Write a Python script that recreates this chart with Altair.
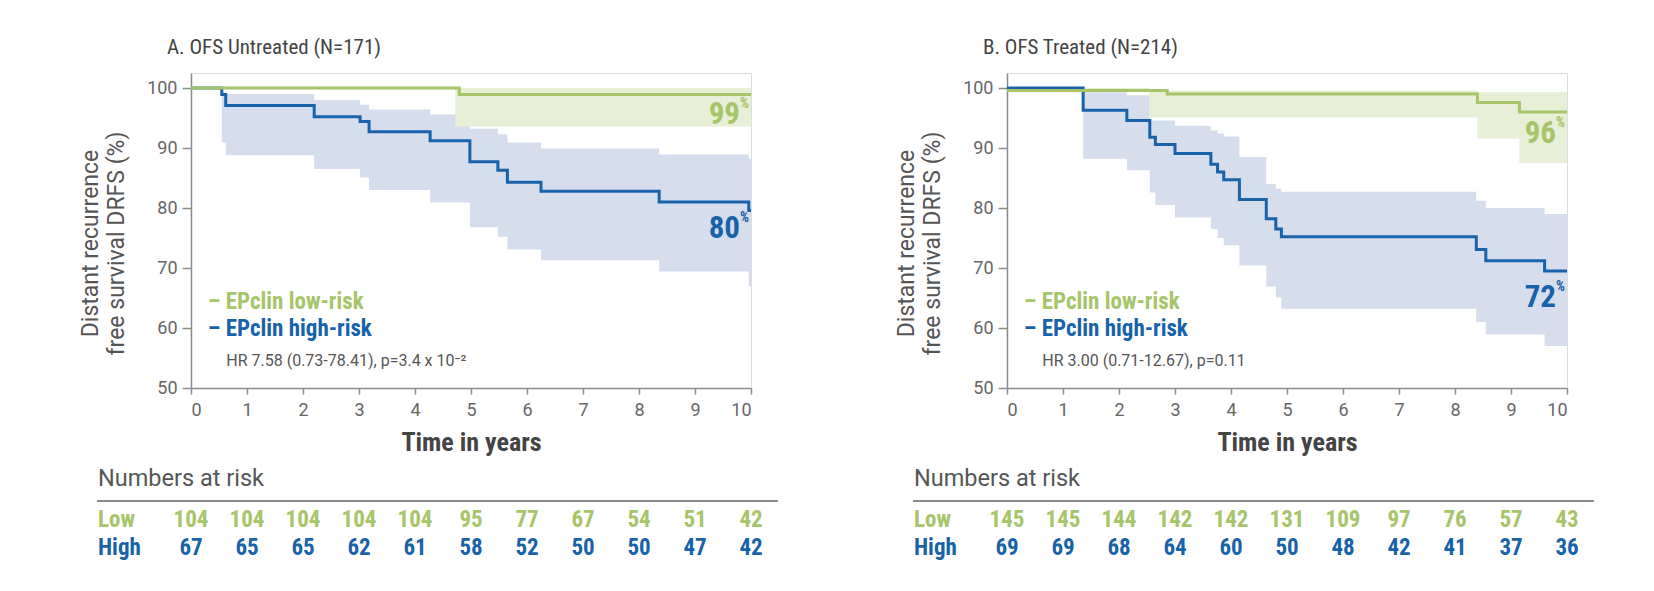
import altair as alt
import pandas as pd

# ---------------- data ----------------
YEARS = list(range(11))

# Panel A: OFS Untreated (N=171)
a_low_t = [0, 4.72, 4.79, 10]
a_low_s = [100, 100, 98.9, 98.9]
a_low_lo = [100, 93.6, 93.6, 93.6]
a_low_hi = [100, 100, 100, 100]

a_high_t = [0, 0.55, 0.62, 2.2, 3.02, 3.18, 4.27, 4.98, 5.48, 5.65, 6.25, 8.36, 9.96, 10]
a_high_s = [100, 98.9, 97.1, 95.2, 94.4, 92.7, 91.2, 87.7, 86.3, 84.3, 82.8, 81.0, 79.6, 79.6]
a_high_hi = [100, 99.2, 99.0, 98.0, 97.2, 96.4, 95.6, 93.2, 92.3, 90.9, 89.9, 88.9, 88.2, 88.2]
a_high_lo = [100, 90.9, 88.8, 86.5, 85.1, 83.0, 80.9, 76.8, 75.2, 73.1, 71.3, 69.4, 67.0, 67.0]

a_risk_low = [104, 104, 104, 104, 104, 95, 77, 67, 54, 51, 42]
a_risk_high = [67, 65, 65, 62, 61, 58, 52, 50, 50, 47, 42]

# Panel B: OFS Treated (N=214)
b_low_t = [0, 2.54, 2.86, 8.4, 9.15, 10]
b_low_s = [99.6, 99.6, 99.0, 97.6, 96.0, 96.0]
b_low_lo = [99.6, 95.1, 95.1, 91.6, 87.5, 87.5]
b_low_hi = [100, 99.6, 99.6, 99.3, 99.3, 99.3]

b_high_t = [0, 1.36, 2.14, 2.55, 2.65, 3.0, 3.64, 3.76, 3.87, 4.15, 4.63, 4.8, 4.9, 8.38, 8.55, 9.6, 10]
b_high_s = [100, 96.3, 94.6, 91.8, 90.6, 89.1, 87.3, 86.0, 84.7, 81.4, 78.2, 76.5, 75.2, 73.1, 71.2, 69.5, 69.5]
b_high_hi = [100, 99.3, 98.8, 94.6, 94.6, 93.7, 92.9, 92.4, 91.9, 88.5, 84.0, 83.2, 82.7, 81.2, 80.0, 79.0, 79.0]
b_high_lo = [100, 88.2, 86.3, 82.6, 80.5, 78.4, 76.5, 75.0, 73.8, 70.4, 66.9, 65.1, 63.2, 61.0, 58.9, 57.0, 57.0]

b_risk_low = [145, 145, 144, 142, 142, 131, 109, 97, 76, 57, 43]
b_risk_high = [69, 69, 68, 64, 60, 50, 48, 42, 41, 37, 36]

# ---------------- styling ----------------
FONT = "Liberation Sans Narrow, Roboto Condensed, Roboto, sans-serif"
FONT_R = "Roboto, Liberation Sans, sans-serif"
GREEN = "#a6c46a"
GREEN_BAND = "#e8efd7"
BLUE = "#1862a9"
BLUE_BAND = "#d6ddec"
AXIS_GREY = "#8a8a8a"
W, H = 560, 315

xs = alt.Scale(domain=[0, 10], nice=False, zero=False)
ys = alt.Scale(domain=[50, 102.5], nice=False, zero=False)
xaxis = alt.Axis(values=YEARS, grid=False, domainColor=AXIS_GREY, tickColor=AXIS_GREY,
                 domainWidth=1.5, tickWidth=1.5, tickSize=6, labelFontSize=18,
                 labelColor="#666", labelPadding=7, labelFont=FONT_R, titleFont=FONT,
                 titleFontSize=26, titleColor="#444", titleFontWeight="bold", titlePadding=10)
yaxis = alt.Axis(values=[50, 60, 70, 80, 90, 100], grid=False, domainColor=AXIS_GREY,
                 tickColor=AXIS_GREY, domainWidth=1.5, tickWidth=1.5, tickSize=9,
                 labelFontSize=18, labelColor="#666", labelPadding=5, labelFont=FONT_R,
                 titleFont=FONT_R, titleFontSize=23, titleColor="#555", titleFontWeight="normal",
                 titlePadding=18, titleLineHeight=26, titleY=170)
XT = "Time in years"
YT = ["Distant recurrence", "free survival DRFS (%)"]


def X(field=None, datum=None):
    if datum is not None:
        return alt.X(datum=datum, type="quantitative", scale=xs, axis=xaxis, title=XT)
    return alt.X(field, type="quantitative", scale=xs, axis=xaxis, title=XT)


def Y(field=None, datum=None):
    if datum is not None:
        return alt.Y(datum=datum, type="quantitative", scale=ys, axis=yaxis, title=YT)
    return alt.Y(field, type="quantitative", scale=ys, axis=yaxis, title=YT)


ONE = pd.DataFrame({"k": [0]})


def txt(text, xd, yd, color, size, weight="normal", align="left", dx=0, dy=0, font=FONT):
    return alt.Chart(ONE).mark_text(text=text, align=align, baseline="middle", dx=dx, dy=dy,
                                    fontSize=size, fontWeight=weight, color=color,
                                    font=font).encode(x=X(datum=xd), y=Y(datum=yd))


def ptxt(text, px, py, color, size, weight="normal", font=FONT):
    return alt.Chart(ONE).mark_text(text=text, align="left", baseline="middle", fontSize=size,
                                    fontWeight=weight, color=color, font=font).encode(
        x=alt.value(px), y=alt.value(py))


def panel(title, low, high, rlow, rhigh, lab_low, lab_high, hr):
    dlow = pd.DataFrame(dict(zip(["t", "s", "lo", "hi"], low)))
    dhigh = pd.DataFrame(dict(zip(["t", "s", "lo", "hi"], high)))
    risk = pd.DataFrame({"t": YEARS, "low": rlow, "high": rhigh})

    band_high = alt.Chart(dhigh).mark_area(interpolate="step-after", color=BLUE_BAND).encode(
        x=X("t"), y=Y("lo"), y2="hi")
    band_low = alt.Chart(dlow).mark_area(interpolate="step-after", color=GREEN_BAND).encode(
        x=X("t"), y=Y("lo"), y2="hi")
    line_high = alt.Chart(dhigh).mark_line(interpolate="step-after", color=BLUE, strokeWidth=3).encode(
        x=X("t"), y=Y("s"))
    line_low = alt.Chart(dlow).mark_line(interpolate="step-after", color=GREEN, strokeWidth=3).encode(
        x=X("t"), y=Y("s"))

    layers = [band_high, band_low, line_high, line_low]
    for (val, yv), col in ((lab_low, GREEN), (lab_high, BLUE)):
        layers.append(txt(val, 10, yv, col, 31, "bold", "right", dx=-11))
        layers.append(txt("%", 10, yv, col, 14, "bold", "left", dx=-11, dy=-11))

    layers.append(txt("\u2013 EPclin low-risk", 0.3, 64.3, GREEN, 23, "bold"))
    layers.append(txt("\u2013 EPclin high-risk", 0.3, 59.8, BLUE, 23, "bold"))
    layers.append(txt(hr, 0.63, 54.5, "#555", 16, font=FONT_R))

    # numbers at risk table
    layers.append(ptxt("Numbers at risk", -93, 406, "#555", 23.5, font=FONT_R))
    layers.append(alt.Chart(ONE).mark_rule(color="#8a8a8a", strokeWidth=2).encode(
        x=alt.value(-94), x2=alt.value(587), y=alt.value(428)))
    layers.append(ptxt("Low", -93, 447, GREEN, 23, "bold"))
    layers.append(ptxt("High", -93, 475, BLUE, 23, "bold"))
    layers.append(alt.Chart(risk).mark_text(baseline="middle", fontSize=23, fontWeight="bold",
                                            color=GREEN, font=FONT).encode(
        x=X("t"), y=alt.value(447), text="low:Q"))
    layers.append(alt.Chart(risk).mark_text(baseline="middle", fontSize=23, fontWeight="bold",
                                            color=BLUE, font=FONT).encode(
        x=X("t"), y=alt.value(475), text="high:Q"))

    return alt.layer(*layers).properties(
        width=W, height=H,
        title=alt.TitleParams(title, anchor="start", frame="group", dx=-24, fontSize=21,
                              color="#444", font=FONT, fontWeight="normal", offset=15))


pa = panel("A. OFS Untreated (N=171)",
           (a_low_t, a_low_s, a_low_lo, a_low_hi),
           (a_high_t, a_high_s, a_high_lo, a_high_hi),
           a_risk_low, a_risk_high, ("99", 95.5), ("80", 76.5),
           "HR 7.58 (0.73-78.41), p=3.4 x 10\u207b\u00b2")
pb = panel("B. OFS Treated (N=214)",
           (b_low_t, b_low_s, b_low_lo, b_low_hi),
           (b_high_t, b_high_s, b_high_lo, b_high_hi),
           b_risk_low, b_risk_high, ("96", 92.3), ("72", 65.0),
           "HR 3.00 (0.71-12.67), p=0.11")

chart = alt.hconcat(pa, pb, spacing=115).properties(
    padding={"left": 71, "top": 28, "right": 5, "bottom": 5}
).configure_view(stroke=None).configure(font=FONT, background="white")

chart.save("out.html", embed_options={"renderer": "svg", "actions": False})
